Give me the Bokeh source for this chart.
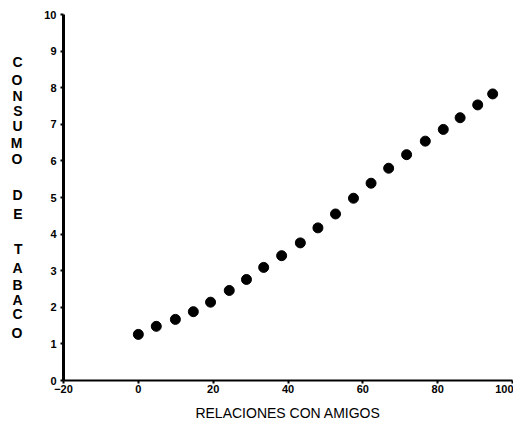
from bokeh.plotting import figure
from bokeh.models import Range1d, FixedTicker, LinearAxis
from bokeh.embed import file_html
from bokeh.resources import INLINE

# Data
relaciones = [0.0, 4.8, 9.9, 14.7, 19.3, 24.3, 28.9, 33.5, 38.3, 43.3, 48.0,
              52.7, 57.5, 62.2, 66.9, 71.7, 76.7, 81.5, 86.0, 90.7, 94.7]
consumo = [1.26, 1.48, 1.67, 1.88, 2.14, 2.46, 2.76, 3.09, 3.41, 3.76, 4.17,
           4.55, 4.98, 5.39, 5.80, 6.17, 6.54, 6.86, 7.18, 7.53, 7.83]
x_ticks = [-20, 0, 20, 40, 60, 80, 100]
y_ticks = [0, 1, 2, 3, 4, 5, 6, 7, 8, 9, 10]
x_title = "RELACIONES CON AMIGOS"
y_title_words = ["CONSUMO", "DE", "TABACO"]

W, H = 513, 434
FRAME_LEFT, FRAME_TOP, FRAME_BOTTOM = 63, 14, 380
p = figure(width=W, height=H, output_backend="svg", toolbar_location=None,
           x_range=Range1d(-20, 100), y_range=Range1d(0, 10),
           min_border_left=FRAME_LEFT, min_border_right=1, min_border_top=FRAME_TOP,
           min_border_bottom=H - FRAME_BOTTOM)
p.grid.visible = False
p.outline_line_color = None
p.background_fill_color = "white"
p.border_fill_color = "white"

p.scatter(relaciones, consumo, size=10, color="black", marker="circle")

for ax in (p.xaxis[0], p.yaxis[0]):
    ax.axis_line_color = "black"
    ax.major_tick_line_color = "black"
    ax.major_tick_line_width = 2
    ax.major_tick_in = 0
    ax.major_tick_out = 3
    ax.minor_tick_line_color = None
    ax.major_label_text_font = "Liberation Sans"
    ax.major_label_text_font_style = "bold"
    ax.major_label_text_font_size = "11px"
    ax.major_label_text_color = "black"

p.xaxis[0].ticker = FixedTicker(ticks=x_ticks)
p.yaxis[0].ticker = FixedTicker(ticks=y_ticks)
p.xaxis[0].axis_line_width = 2
p.yaxis[0].axis_line_width = 3
p.xaxis[0].major_label_standoff = 1
p.yaxis[0].major_label_standoff = 4

p.xaxis[0].axis_label = x_title
p.xaxis[0].axis_label_text_font = "Liberation Sans"
p.xaxis[0].axis_label_text_font_style = "normal"
p.xaxis[0].axis_label_text_font_size = "14px"
p.xaxis[0].axis_label_text_color = "black"
p.xaxis[0].axis_label_standoff = 9

# stacked vertical letters for the y title, drawn as an extra left axis whose
# range is in page pixels (top to bottom)
letter_rows = ([61, 79, 95, 110, 125, 142, 158], [194, 213],
               [248, 267, 284, 299, 313, 332])
ticks, overrides = [], {}
for word, rows in zip(y_title_words, letter_rows):
    for ch, yy in zip(word, rows):
        ticks.append(yy)
        overrides[yy] = ch
p.extra_y_ranges = {"letters": Range1d(FRAME_BOTTOM, FRAME_TOP)}
lax = LinearAxis(y_range_name="letters", ticker=FixedTicker(ticks=ticks),
                 major_label_overrides=overrides)
lax.axis_line_color = None
lax.major_tick_line_color = None
lax.minor_tick_line_color = None
lax.major_label_standoff = 13
lax.major_label_text_font = "Liberation Sans"
lax.major_label_text_font_style = "bold"
lax.major_label_text_font_size = "14px"
lax.major_label_text_color = "black"
p.add_layout(lax, "left")

open("out.html", "w").write(file_html(p, INLINE))
